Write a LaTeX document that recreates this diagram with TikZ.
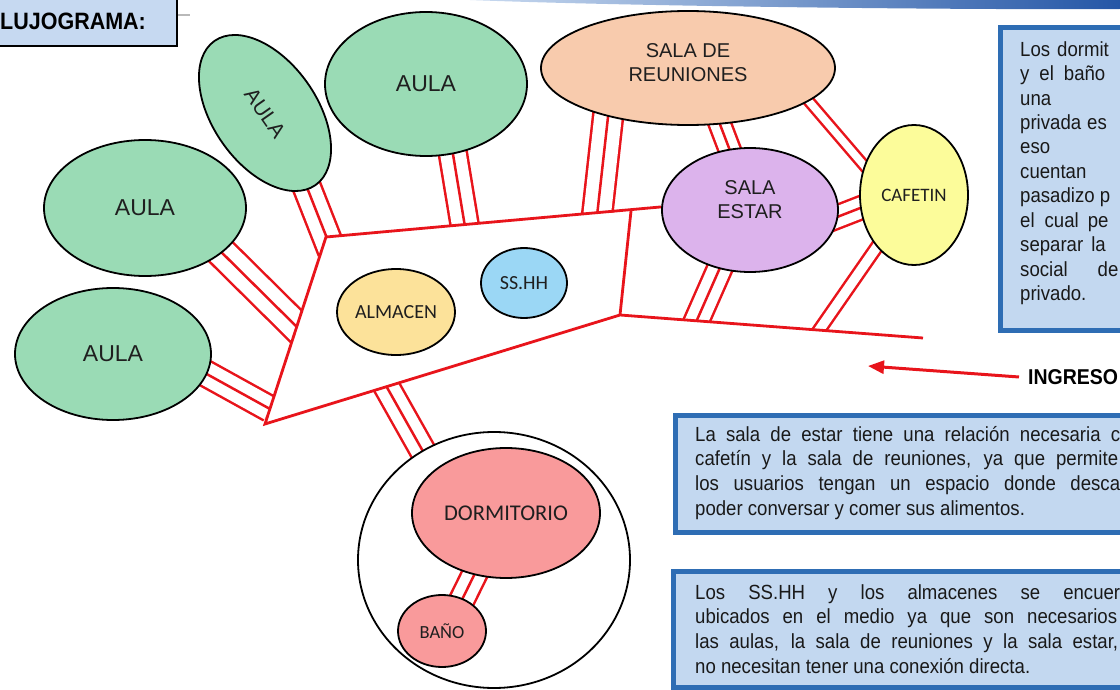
\documentclass[tikz,border=0pt]{standalone}
\usepackage{fontspec}
\setmainfont{Liberation Sans}
\newfontfamily\carl{Carlito}
\usetikzlibrary{shapes.geometric,arrows.meta,calc}
\definecolor{lred}{HTML}{E8141B}
\definecolor{aulag}{HTML}{9ADBB5}
\definecolor{peach}{HTML}{F8CBAD}
\definecolor{lilac}{HTML}{DCB3EC}
\definecolor{cafy}{HTML}{FCFC9A}
\definecolor{almy}{HTML}{FCE29A}
\definecolor{ssb}{HTML}{9BD7F5}
\definecolor{pinkr}{HTML}{F99A9B}
\definecolor{nblue}{HTML}{2E6DB4}
\definecolor{nfill}{HTML}{C3D8F0}
\definecolor{tfill}{HTML}{C6D9F1}
\definecolor{hdark}{HTML}{2456A6}
\definecolor{hlight}{HTML}{C9DAF0}
\pgfdeclarelayer{bg}
\pgfdeclarelayer{mid}
\pgfsetlayers{bg,mid,main}
\newcommand{\tall}[1]{\scalebox{1}[1.1]{#1}}
\begin{document}
\begin{tikzpicture}[x=1pt,y=-1pt,
  room/.style={ellipse, draw=black, line width=1.8pt, inner sep=0pt, text=black!88},
  tri/.style={draw=lred, line width={2*#1+2.5}, postaction={draw=white, line width={2*#1-2.5}}, postaction={draw=lred, line width=2.5}},
  dbl/.style={draw=lred, line width={#1+2.5}, postaction={draw=white, line width={#1-2.5}}},
  hall/.style={draw=lred, line width=2.8pt, line join=miter},
  note/.style={draw=nblue, line width=5pt, fill=nfill},
  txt/.style={font=\fontsize{18.6}{22}\selectfont, anchor=base west, inner sep=0pt, text=black!90},
  arial/.style={font=\fontsize{#1}{#1}\selectfont},
  calib/.style={font=\carl\fontsize{#1}{#1}\selectfont}]
\useasboundingbox (0,0) rectangle (1120,690);

% header swoosh and title
\shade[left color=hlight, right color=hdark] (470,0) -- (1120,0) -- (1120,9) .. controls (950,10) and (620,6) .. (470,0) -- cycle;
\draw[gray!55, line width=1.2pt] (177,15) -- (190,15);
\draw[fill=tfill, line width=2.4pt] (-10,-10) rectangle (177,46);
\node[font=\bfseries\fontsize{21.5}{22}\selectfont, anchor=base west, inner sep=0pt] (title) at (0,29.5) {\tall{LUJOGRAMA:}};

% rooms
\node[room, fill=aulag, minimum width=202pt, minimum height=136pt, arial=23] (a1) at (145,208) {AULA};
\node[room, fill=aulag, minimum width=196pt, minimum height=132pt, arial=23] (a2) at (113,354) {AULA};
\node[room, fill=aulag, minimum width=176pt, minimum height=104pt, rotate=-55, arial=21] (a3) at (265,113) {AULA};
\node[room, fill=aulag, minimum width=202pt, minimum height=144pt, arial=23] (a4) at (426,84) {AULA};
\node[room, fill=peach, minimum width=294pt, minimum height=114pt] (reu) at (688,68) {};
\node[arial=20, align=center, inner sep=0pt, text=black!88] (reut) at (688,62.5) {SALA DE\\[4pt]REUNIONES};
\node[room, fill=lilac, minimum width=176pt, minimum height=124pt] (se) at (750,210) {};
\node[arial=20, align=center, inner sep=0pt, text=black!88] (set) at (750,199.5) {SALA\\[4pt]ESTAR};
\node[room, fill=cafy, minimum width=108pt, minimum height=140pt, calib=19] (caf) at (914,195) {CAFETIN};
\node[room, fill=almy, minimum width=118pt, minimum height=86pt, calib=20] (alm) at (396,312) {ALMACEN};
\node[room, fill=ssb, minimum width=86pt, minimum height=70pt, calib=20] (ss) at (524,283) {SS.HH};
\node[room, fill=pinkr, minimum width=188pt, minimum height=130pt, calib=22.5] (dorm) at (506,513) {DORMITORIO};
\node[room, fill=pinkr, minimum width=88pt, minimum height=72pt, calib=18.5] (bano) at (442,631) {BAÑO};

% hall corners
\coordinate (A) at (265,424);
\coordinate (B) at (326,237);
\coordinate (C) at (631,211);
\coordinate (D) at (620,315);
\coordinate (E) at (923,338);
\coordinate (h1) at (332,251);
\coordinate (h2) at (306,336);
\coordinate (h3) at (270,409);
\coordinate (h4) at (467,239);
\coordinate (h5) at (596,225);
\coordinate (h9) at (693,329);
\coordinate (h10) at (813,339);
\coordinate (h11) at (380,375);

\begin{pgfonlayer}{mid}
  \draw[hall] (se.178) -- (B) -- (A) -- (D) -- (E);
  \draw[hall] (D) -- (C);
  \node[ellipse, draw=black, fill=white, line width=1.8pt, minimum width=272pt, minimum height=256pt, inner sep=0pt] (circ) at (494,560) {};
  \draw[tri=12.5] ([shift={(-22,42)}]dorm.center) -- ([shift={(11,-13)}]bano.center);
\end{pgfonlayer}

\begin{pgfonlayer}{bg}
  \draw[tri=14] ([shift={(30,44)}]a3.center) -- (h1);
  \draw[tri=15] ([shift={(57,25)}]a1.center) -- (h2);
  \draw[tri=13] ([shift={(72,8)}]a2.center) -- (h3);
  \draw[tri=14] ([shift={(22,40)}]a4.center) -- (h4);
  \draw[tri=15] ([shift={(-77,22)}]reu.center) -- (h5);
  \draw[tri=11] ([shift={(25,38)}]reu.center) -- ([shift={(-13,-41)}]se.center);
  \draw[dbl=10] ([shift={(119,31)}]reu.center) -- ([shift={(-41,-19)}]caf.center);
  \draw[tri=11.5] ([shift={(64,16)}]se.center) -- ([shift={(-28,3)}]caf.center);
  \draw[tri=12.5] ([shift={(-20,35)}]se.center) -- (h9);
  \draw[dbl=12] ([shift={(-24,33)}]caf.center) -- (h10);
  \draw[tri=12.8] (h11) -- ([shift={(-56,-82)}]circ.center);
  \fill[white] (A) -- (B) -- (C) -- (D) -- cycle;
  \fill[white] (D) -- (E) -- ($(E)+(0,18)$) -- ($(D)+(0,18)$) -- cycle;
\end{pgfonlayer}

% ingreso
\node[font=\bfseries\fontsize{19.5}{20}\selectfont, anchor=west, inner sep=0pt] (ing) at (1028,377) {\tall{INGRESO}};
\coordinate (tip) at (868,366);
\draw[lred, line width=3pt, -{Triangle[length=16pt,width=13pt]}] ([xshift=-9pt]ing.west) -- (tip);

% note 1
\draw[note] (1000,28) rectangle (1130,330);
\node[txt] (n1) at (1020,56.4) {\tall{Los\hspace{7pt}dormit}};
\node[txt] (n2) at (1020,80.8) {\tall{y\hspace{10pt}el\hspace{10pt}baño}};
\node[txt] (n3) at (1020,105.2) {\tall{una}};
\node[txt] (n4) at (1020,129.6) {\tall{privada\hspace{6pt}es}};
\node[txt] (n5) at (1020,154) {\tall{eso}};
\node[txt] (n6) at (1020,178.4) {\tall{cuentan}};
\node[txt] (n7) at (1020,202.8) {\tall{pasadizo p}};
\node[txt] (n8) at (1020,227.2) {\tall{el\hspace{10pt}cual\hspace{9pt}pe}};
\node[txt] (n9) at (1020,251.6) {\tall{separar\hspace{8pt}la}};
\node[txt] (n10) at (1020,276) {\tall{social\hspace{30pt}de}};
\node[txt] (n11) at (1020,300.4) {\tall{privado.}};

% note 2
\draw[note] (675,415) rectangle (1130,532);
\node[txt] (m1) at (695,441) {\tall{\makebox[425pt][s]{La sala de estar tiene una relación necesaria c}}};
\node[txt] (m2) at (695,465.7) {\tall{\makebox[423pt][s]{cafetín y la sala de reuniones, ya que permite}}};
\node[txt] (m3) at (695,490.4) {\tall{\makebox[425pt][s]{los usuarios tengan un espacio donde desca}}};
\node[txt] (m4) at (695,515.1) {\tall{poder conversar y comer sus alimentos.}};

% note 3
\draw[note] (673,571) rectangle (1130,687);
\node[txt] (k1) at (695,599) {\tall{\makebox[425pt][s]{Los SS.HH y los almacenes se encuer}}};
\node[txt] (k2) at (695,623.7) {\tall{\makebox[422pt][s]{ubicados en el medio ya que son necesarios}}};
\node[txt] (k3) at (695,648.4) {\tall{\makebox[423pt][s]{las aulas, la sala de reuniones y la sala estar,}}};
\node[txt] (k4) at (695,673.1) {\tall{no necesitan tener una conexión directa.}};
\end{tikzpicture}
\end{document}
